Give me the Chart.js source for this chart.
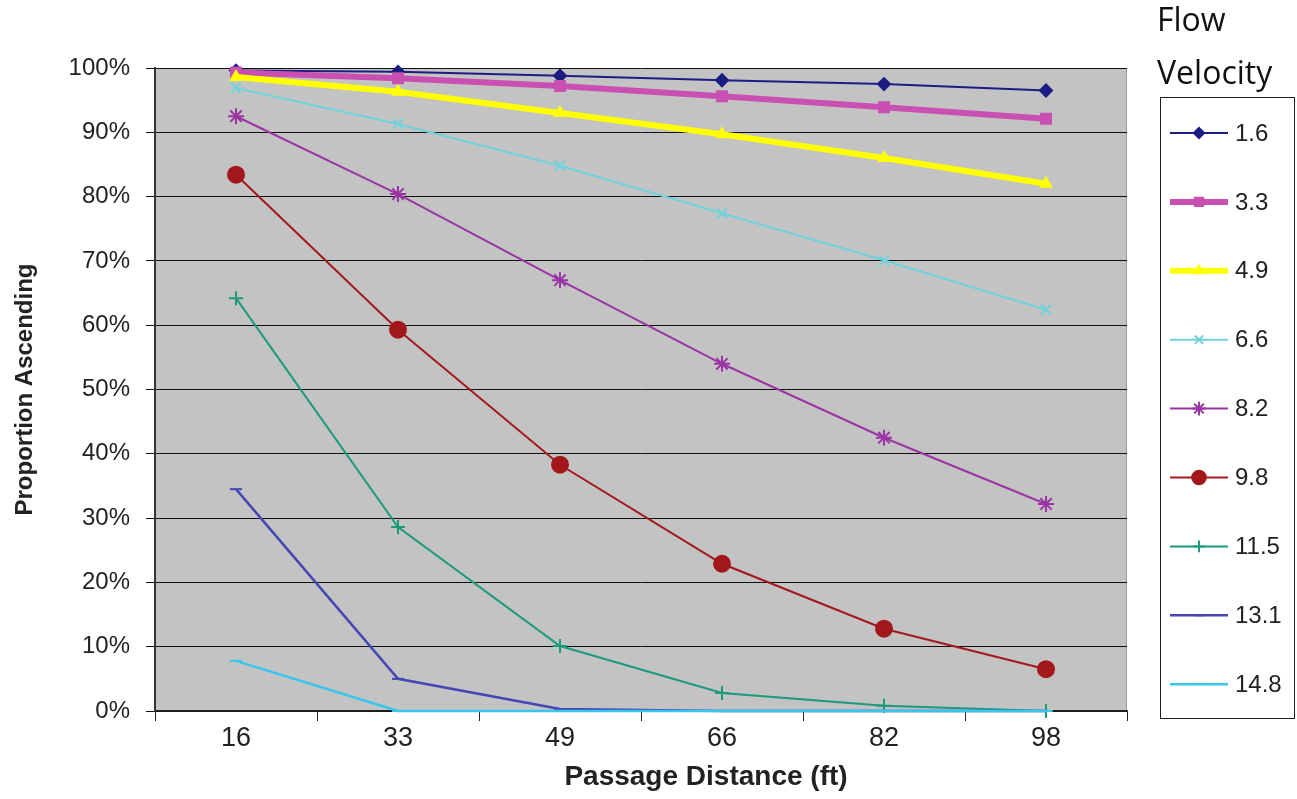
<!DOCTYPE html>
<html>
<head>
<meta charset="utf-8">
<script src="https://cdn.jsdelivr.net/npm/chart.js@4/dist/chart.umd.min.js"></script>
<style>
  html, body { margin: 0; padding: 0; background: #fff; }
  #wrap { width: 1297px; height: 799px; position: relative; }
</style>
</head>
<body>
<div id="wrap"><canvas id="chart"></canvas></div>
<script>
// passage distance (ft)
const distances = ['16', '33', '49', '66', '82', '98'];
const yTicks = [0, 10, 20, 30, 40, 50, 60, 70, 80, 90, 100];

// proportion ascending (%) per flow velocity
const v16 = [99.6, 99.4, 98.8, 98.1, 97.5, 96.5];
const v33 = [99.3, 98.4, 97.2, 95.6, 93.9, 92.1];
const v49 = [98.6, 96.3, 93.0, 89.7, 86.0, 82.0];
const v66 = [96.9, 91.3, 84.8, 77.4, 70.1, 62.4];
const v82 = [92.5, 80.4, 67.0, 54.0, 42.5, 32.2];
const v98 = [83.4, 59.3, 38.3, 22.9, 12.8, 6.5];
const v115 = [64.2, 28.6, 10.1, 2.8, 0.8, 0.0];
const v131 = [34.5, 5.0, 0.3, 0.0, 0.0, 0.0];
const v148 = [7.8, 0.0, 0.0, 0.0, 0.0, 0.0];

const FONT = "'Liberation Sans', Arial, sans-serif";

let n = 0;
function series(label, data, color, width, style, radius) {
  return {
    label, data,
    order: -(n++),   // later series drawn on top, as in the original
    clip: 8,
    borderColor: color,
    backgroundColor: color,
    borderWidth: width,
    pointStyle: style,
    pointRadius: radius,
    pointBorderWidth: 2,
    pointBorderColor: color,
    pointBackgroundColor: color,
    tension: 0
  };
}

const datasets = [
  series('1.6', v16, '#1c1c82', 2, 'rectRot', 6),
  series('3.3', v33, '#c94fb2', 6, 'rect', 7),
  series('4.9', v49, '#ffff00', 6, 'triangle', 6),
  series('6.6', v66, '#6fd2dc', 2, 'crossRot', 7),
  series('8.2', v82, '#9a35a4', 2, 'star', 8),
  series('9.8', v98, '#a3181c', 2, 'circle', 8),
  series('11.5', v115, '#1b9a7c', 2, 'cross', 7),
  series('13.1', v131, '#4646b4', 2.5, 'line', 6),
  series('14.8', v148, '#36c6ee', 2.5, 'line', 6)
];

// gray plot area
const plotBg = {
  id: 'plotBg',
  beforeDraw(chart) {
    const { ctx, chartArea: a } = chart;
    ctx.save();
    ctx.fillStyle = '#c3c3c3';
    ctx.fillRect(a.left, a.top, a.right - a.left, a.bottom - a.top);
    ctx.strokeStyle = '#9a9a9a';
    ctx.lineWidth = 1;
    ctx.beginPath();
    ctx.moveTo(a.right - 0.5, a.top);
    ctx.lineTo(a.right - 0.5, a.bottom);
    ctx.stroke();
    ctx.restore();
  }
};

// x title sits a little right of centre in the original
const xTitle = {
  id: 'xTitle',
  afterDraw(chart) {
    const ctx = chart.ctx;
    ctx.save();
    ctx.fillStyle = '#222';
    ctx.font = 'bold 28px ' + FONT;
    ctx.textAlign = 'center';
    ctx.textBaseline = 'middle';
    ctx.fillText('Passage Distance (ft)', 706, 777);
    ctx.restore();
  }
};

// boxed legend with title above it, like the spreadsheet original
const boxLegend = {
  id: 'boxLegend',
  afterDraw(chart) {
    const ctx = chart.ctx;
    ctx.save();
    ctx.fillStyle = '#111';
    ctx.font = "32px 'Open Sans', sans-serif";
    ctx.textBaseline = 'middle';
    ctx.textAlign = 'left';
    ctx.fillText('Flow', 1157, 22);
    ctx.fillText('Velocity', 1157, 75);

    ctx.strokeStyle = '#222';
    ctx.lineWidth = 1;
    ctx.strokeRect(1160.5, 97.5, 134, 621);

    const y0 = 133, step = 68.9;
    chart.data.datasets.forEach((ds, i) => {
      const y = y0 + i * step;
      ctx.strokeStyle = ds.borderColor;
      ctx.lineWidth = ds.borderWidth;
      ctx.beginPath();
      ctx.moveTo(1170, y);
      ctx.lineTo(1228, y);
      ctx.stroke();
      ctx.lineWidth = 2;
      ctx.fillStyle = ds.pointBackgroundColor;
      Chart.helpers.drawPoint(ctx, {
        pointStyle: ds.pointStyle,
        radius: ds.pointRadius * 0.85,
        borderWidth: 2,
        rotation: 0
      }, 1199, y);
      ctx.fillStyle = '#222';
      ctx.font = '24px ' + FONT;
      ctx.fillText(ds.label, 1235, y + 1);
    });
    ctx.restore();
  }
};

new Chart(document.getElementById('chart'), {
  type: 'line',
  data: { labels: distances, datasets },
  options: {
    responsive: true,
    maintainAspectRatio: false,
    animation: false,
    layout: { padding: { top: 68, right: 170, left: 7, bottom: 0 } },
    plugins: {
      legend: { display: false },
      tooltip: { enabled: false }
    },
    scales: {
      x: {
        type: 'category',
        offset: true,
        afterFit(scale) { scale.height = 88; },
        grid: {
          offset: true,
          drawOnChartArea: false,
          drawTicks: true,
          tickLength: 10,
          color: '#222'
        },
        border: { color: '#222', width: 1.5 },
        ticks: { color: '#222', font: { family: FONT, size: 27 }, padding: 1 },
        title: { display: false }
      },
      y: {
        min: 0,
        max: 100,
        afterFit(scale) { scale.width = 148; },
        afterBuildTicks(scale) { scale.ticks = yTicks.map(v => ({ value: v })); },
        grid: { color: '#111', lineWidth: 1, tickLength: 9 },
        border: { color: '#333', width: 2 },
        ticks: {
          color: '#222',
          font: { family: FONT, size: 24 },
          padding: 16,
          callback: v => v + '%'
        },
        title: {
          display: true,
          text: 'Proportion Ascending',
          color: '#222',
          font: { family: FONT, size: 24, weight: 'bold' },
          padding: { bottom: 2 }
        }
      }
    }
  },
  plugins: [plotBg, xTitle, boxLegend]
});
</script>
</body>
</html>
